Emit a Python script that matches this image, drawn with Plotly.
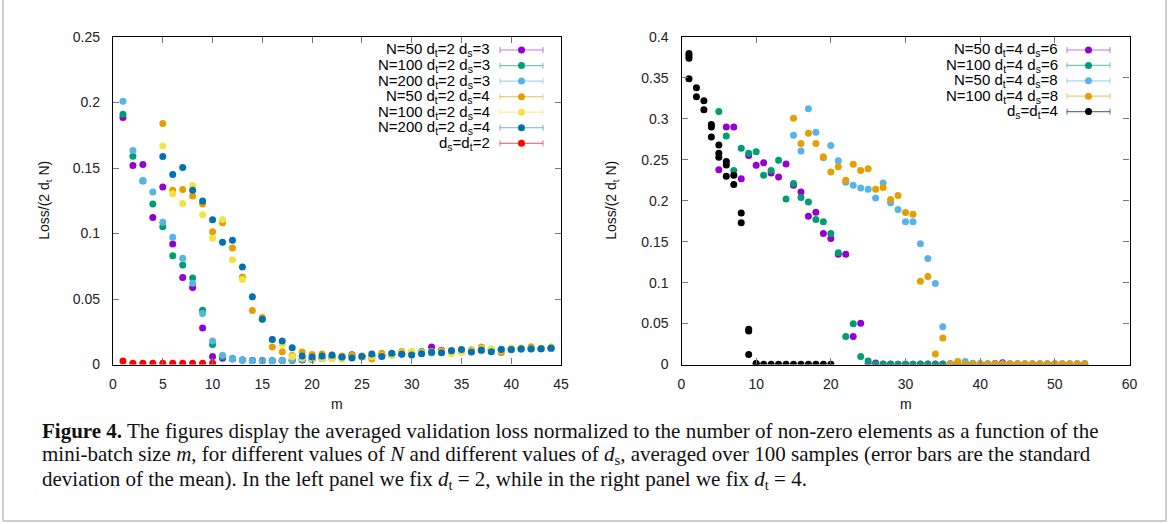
import plotly.graph_objects as go

# ---------------- data: left panel (d_t = 2) ----------------
m_ds3 = list(range(1, 45))
m_ds4 = list(range(5, 45))
m_red = list(range(1, 11))

n50_ds3 = [0.1885, 0.152, 0.1527, 0.1123, 0.1355, 0.092, 0.0665, 0.0587, 0.0279, 0.0062,
           0.0047, 0.0042, 0.0035, 0.003, 0.003, 0.0028, 0.003, 0.0032, 0.0035, 0.004,
           0.0045, 0.005, 0.0055, 0.0075, 0.006, 0.0065, 0.007, 0.0075, 0.008, 0.0085,
           0.009, 0.0134, 0.0108, 0.0105, 0.0105, 0.0108, 0.011, 0.0112, 0.0115, 0.0117,
           0.012, 0.012, 0.0122, 0.0124]
n100_ds3 = [0.191, 0.159, 0.14, 0.1226, 0.1052, 0.083, 0.0759, 0.066, 0.0415, 0.0153,
            0.006, 0.0045, 0.0035, 0.003, 0.0028, 0.0028, 0.003, 0.0033, 0.0038, 0.0042,
            0.0046, 0.005, 0.0055, 0.006, 0.0063, 0.0066, 0.007, 0.0075, 0.008, 0.0085,
            0.01, 0.009, 0.0095, 0.0098, 0.01, 0.0105, 0.0108, 0.011, 0.0113, 0.0116,
            0.0118, 0.012, 0.0121, 0.0123]
n200_ds3 = [0.201, 0.1633, 0.1405, 0.1317, 0.1085, 0.0971, 0.0812, 0.062, 0.039, 0.018,
            0.007, 0.0044, 0.0034, 0.0029, 0.0028, 0.0028, 0.003, 0.0034, 0.004, 0.0042,
            0.0045, 0.005, 0.0054, 0.0058, 0.0062, 0.0066, 0.007, 0.0074, 0.0078, 0.0082,
            0.0086, 0.009, 0.0093, 0.0096, 0.0099, 0.0102, 0.0105, 0.0108, 0.011, 0.0113,
            0.0116, 0.0118, 0.012, 0.0122]
n50_ds4 = [0.184, 0.133, 0.1335, 0.1286, 0.1226, 0.1014, 0.1082, 0.089, 0.0668, 0.0413,
           0.0358, 0.0133, 0.0097, 0.0068, 0.0095, 0.0077, 0.008, 0.0075, 0.0065, 0.007,
           0.0065, 0.0042, 0.0085, 0.008, 0.01, 0.0095, 0.0095, 0.01, 0.0105, 0.0105,
           0.011, 0.011, 0.0134, 0.0115, 0.009, 0.012, 0.0122, 0.0136, 0.0125, 0.013]
n100_ds4 = [0.1668, 0.1304, 0.1229, 0.1367, 0.1143, 0.0963, 0.1107, 0.0799, 0.0648, 0.0517,
            0.0345, 0.019, 0.0153, 0.0059, 0.005, 0.0045, 0.0045, 0.0045, 0.004, 0.005,
            0.0055, 0.006, 0.0065, 0.0075, 0.009, 0.01, 0.009, 0.0095, 0.0095, 0.0083,
            0.0093, 0.0105, 0.012, 0.012, 0.011, 0.0127, 0.0127, 0.0125, 0.012, 0.0136]
n200_ds4 = [0.1587, 0.145, 0.1504, 0.133, 0.1249, 0.1105, 0.0933, 0.0948, 0.0744, 0.0517,
            0.0345, 0.0191, 0.018, 0.0127, 0.0064, 0.0057, 0.0064, 0.007, 0.0057, 0.005,
            0.0062, 0.008, 0.0062, 0.0085, 0.008, 0.0072, 0.0083, 0.0093, 0.009, 0.0105,
            0.0115, 0.0095, 0.0111, 0.0098, 0.0115, 0.0115, 0.0121, 0.012, 0.012, 0.0126]
ds_dt_2 = [0.0027, 0.001, 0.001, 0.001, 0.001, 0.001, 0.001, 0.001, 0.001, 0.001]

# ---------------- data: right panel (d_t = 4) ----------------
m_ds6 = list(range(5, 55))
m_ds8 = list(range(15, 55))

n50_ds6 = [0.238, 0.29, 0.29, 0.227, 0.2554, 0.2435, 0.2463, 0.234, 0.229, 0.245,
           0.219, 0.2108, 0.181, 0.186, 0.160, 0.154, 0.1346, 0.1348, 0.0343, 0.0503,
           0.001, 0.0017, 0.0005, 0.0005, 0.0004, 0.0004, 0.0004, 0.0005, 0.0005, 0.0005,
           0.0005, 0.0006, 0.0006, 0.0006, 0.0006, 0.0006, 0.0006, 0.0012, 0.002, 0.0006,
           0.0006, 0.0006, 0.0006, 0.0006, 0.0006, 0.0007, 0.0007, 0.0007, 0.0007, 0.001]
n100_ds6 = [0.309, 0.279, 0.237, 0.264, 0.258, 0.260, 0.231, 0.237, 0.2496, 0.202,
            0.221, 0.204, 0.1986, 0.177, 0.1745, 0.160, 0.1365, 0.0343, 0.0499, 0.0098,
            0.0042, 0.0005, 0.0003, 0.0003, 0.0003, 0.0003, 0.0003, 0.0003, 0.0003, 0.0003,
            0.0003, 0.0003, 0.0003, 0.0003, 0.0003, 0.0003, 0.0003, 0.0003, 0.0003, 0.0003,
            0.0003, 0.0003, 0.0004, 0.0004, 0.0004, 0.0004, 0.0004, 0.0004, 0.0004, 0.0004]
n50_ds8 = [0.28, 0.2607, 0.3125, 0.2836, 0.2525, 0.2676, 0.2488, 0.2227, 0.219, 0.2157,
           0.214, 0.2034, 0.2216, 0.1975, 0.1892, 0.1745, 0.1745, 0.1475, 0.1295, 0.0989,
           0.0462, 0.0012, 0.0025, 0.0037, 0.0015, 0.001, 0.0008, 0.0008, 0.0008, 0.0008,
           0.0008, 0.0008, 0.0008, 0.0008, 0.0008, 0.0009, 0.0009, 0.0009, 0.001, 0.001]
n100_ds8 = [0.3007, 0.270, 0.2824, 0.270, 0.2537, 0.235, 0.2414, 0.2251, 0.2447, 0.2368,
            0.2392, 0.214, 0.2162, 0.2015, 0.2064, 0.1855, 0.1835, 0.1018, 0.1075, 0.0127,
            0.0323, 0.0005, 0.0037, 0.0005, 0.0005, 0.0005, 0.0005, 0.0005, 0.0005, 0.0005,
            0.0005, 0.0005, 0.0005, 0.0005, 0.0005, 0.0005, 0.0005, 0.0005, 0.0005, 0.0005]
black_m = [1, 1, 1, 1, 2, 2, 3, 3, 4, 4, 4, 5, 5, 5, 6, 6, 6, 7, 7, 8, 8, 9, 9, 9,
           10, 10, 11, 12, 13, 14, 15, 16, 17, 18, 19, 20]
black_v = [0.380, 0.377, 0.374, 0.349, 0.338, 0.327, 0.322, 0.311, 0.293, 0.290, 0.278,
           0.268, 0.258, 0.253, 0.248, 0.2436, 0.230, 0.231, 0.220, 0.185, 0.173,
           0.043, 0.041, 0.0123, 0.0012, 0.0005, 0.0003, 0.0003, 0.0003, 0.0003, 0.0003,
           0.0003, 0.0003, 0.0003, 0.0003, 0.0003]

left_names = ["N=50 d<sub>t</sub>=2 d<sub>s</sub>=3", "N=100 d<sub>t</sub>=2 d<sub>s</sub>=3",
              "N=200 d<sub>t</sub>=2 d<sub>s</sub>=3", "N=50 d<sub>t</sub>=2 d<sub>s</sub>=4",
              "N=100 d<sub>t</sub>=2 d<sub>s</sub>=4", "N=200 d<sub>t</sub>=2 d<sub>s</sub>=4",
              "d<sub>s</sub>=d<sub>t</sub>=2"]
right_names = ["N=50 d<sub>t</sub>=4 d<sub>s</sub>=6", "N=100 d<sub>t</sub>=4 d<sub>s</sub>=6",
               "N=50 d<sub>t</sub>=4 d<sub>s</sub>=8", "N=100 d<sub>t</sub>=4 d<sub>s</sub>=8",
               "d<sub>s</sub>=d<sub>t</sub>=4"]

x_ticks_left = [0, 5, 10, 15, 20, 25, 30, 35, 40, 45]
x_ticks_right = [0, 10, 20, 30, 40, 50, 60]

# ---------------- styling ----------------
COL = {"purple": (148, 0, 211), "green": (0, 158, 115), "lblue": (86, 180, 233),
       "orange": (230, 159, 0), "yellow": (240, 228, 66), "blue": (0, 114, 178),
       "red": (255, 0, 0), "black": (0, 0, 0)}

W, H = 1170, 524
def px(x):
    return x / W
def py(y):
    return 1 - y / H

L1, L2 = 113, 561
R1, R2 = 681.5, 1129.5
TOP, BOT = 37, 364.5

def rgb(c, a=1.0):
    return f"rgba({c[0]},{c[1]},{c[2]},{a})"

fig = go.Figure()

def add(xs, ys, name, col, axis, err):
    fig.add_trace(go.Scatter(
        x=xs, y=ys, name=name, mode="markers", showlegend=False,
        xaxis="x" if axis == 1 else "x2", yaxis="y" if axis == 1 else "y2",
        marker=dict(color=rgb(COL[col]), size=7, line=dict(width=0)),
        error_y=dict(type="constant", value=err, color=rgb(COL[col], 0.5),
                     thickness=1, width=2)))

left_series = [(m_ds3, n50_ds3, "purple"), (m_ds3, n100_ds3, "green"),
               (m_ds3, n200_ds3, "lblue"), (m_ds4, n50_ds4, "orange"),
               (m_ds4, n100_ds4, "yellow"), (m_ds4, n200_ds4, "blue"),
               (m_red, ds_dt_2, "red")]
right_series = [(m_ds6, n50_ds6, "purple"), (m_ds6, n100_ds6, "green"),
                (m_ds8, n50_ds8, "lblue"), (m_ds8, n100_ds8, "orange"),
                (black_m, black_v, "black")]

for (xs, ys, c), nm in zip(left_series, left_names):
    add(xs, ys, nm, c, 1, 0.0015)
for (xs, ys, c), nm in zip(right_series, right_names):
    add(xs, ys, nm, c, 2, 0.0022)

tickfont = dict(family="Liberation Sans", size=14, color="#222")
axis_common = dict(showline=True, linecolor="#000", linewidth=1.3, mirror="allticks",
                   ticks="inside", ticklen=6, tickcolor="#777", tickwidth=1,
                   showgrid=False, zeroline=False, tickfont=tickfont, fixedrange=True)

fig.update_layout(
    width=W, height=H, paper_bgcolor="white", plot_bgcolor="white",
    margin=dict(l=0, r=0, t=0, b=0, autoexpand=False), showlegend=False,
    xaxis=dict(domain=[px(L1), px(L2)], range=[0, 45], tickvals=x_ticks_left,
               anchor="y", ticklabelstandoff=7, **axis_common),
    yaxis=dict(domain=[py(BOT), py(TOP)], range=[0, 0.25], dtick=0.05,
               anchor="x", ticklabelstandoff=9, **axis_common),
    xaxis2=dict(domain=[px(R1), px(R2)], range=[0, 60], tickvals=x_ticks_right,
                anchor="y2", ticklabelstandoff=7, **axis_common),
    yaxis2=dict(domain=[py(BOT), py(TOP)], range=[0, 0.4], dtick=0.05,
                anchor="x2", ticklabelstandoff=9, **axis_common),
)

ann = []
shapes = []
lab_font = dict(family="Liberation Sans", size=14, color="#111")
# axis titles
for xc in [(L1 + L2) / 2, (R1 + R2) / 2]:
    ann.append(dict(text="m", x=px(xc), y=py(404), xref="paper", yref="paper",
                    showarrow=False, font=lab_font, xanchor="center", yanchor="middle"))
for xc in [45, 612]:
    ann.append(dict(text="Loss/(2 d<sub>t</sub> N)", x=px(xc), y=py((TOP + BOT) / 2),
                    xref="paper", yref="paper", showarrow=False, font=lab_font,
                    textangle=-90, xanchor="center", yanchor="middle"))

# gnuplot-style keys (text, then errorbar sample)
def key(names, series, text_right, l0, l1, y0, dy):
    for i, (nm, s) in enumerate(zip(names, series)):
        c = COL[s[2]]
        y = y0 + i * dy
        ann.append(dict(text=nm, x=px(text_right), y=py(y), xref="paper", yref="paper",
                        showarrow=False, xanchor="right", yanchor="middle",
                        font=dict(family="Liberation Sans", size=15, color="#000")))
        shapes.append(dict(type="line", xref="paper", yref="paper", x0=px(l0), x1=px(l1),
                           y0=py(y), y1=py(y), line=dict(color=rgb(c, 0.55), width=1.2)))
        for xe in (l0, l1):
            shapes.append(dict(type="line", xref="paper", yref="paper", x0=px(xe), x1=px(xe),
                               y0=py(y - 3), y1=py(y + 3), line=dict(color=rgb(c, 0.55), width=1)))
        xm = (l0 + l1) / 2
        shapes.append(dict(type="circle", xref="paper", yref="paper", fillcolor=rgb(c),
                           line=dict(width=0), x0=px(xm - 3.5), x1=px(xm + 3.5),
                           y0=py(y + 3.5), y1=py(y - 3.5)))

key(left_names, left_series, 492, 500, 543, 50, 15.55)
key(right_names, right_series, 1060, 1067, 1110, 50, 15.4)

# caption
cap_font = dict(family="Liberation Serif", size=21, color="#111")
cap_lines = [
    "<b>Figure 4.</b> The figures display the averaged validation loss normalized to the number of non-zero elements as a function of the",
    "mini-batch size <i>m</i>, for different values of <i>N</i> and different values of <i>d</i><sub>s</sub>, averaged over 100 samples (error bars are the standard",
    "deviation of the mean). In the left panel we fix <i>d</i><sub>t</sub> = 2, while in the right panel we fix <i>d</i><sub>t</sub> = 4.",
]
cap_y = [431, 454.5, 480]
for t, yy in zip(cap_lines, cap_y):
    ann.append(dict(text=t, x=px(40), y=py(yy), xref="paper", yref="paper",
                    showarrow=False, xanchor="left", yanchor="middle", font=cap_font))

# outer frame (left, right, bottom)
fc = "#cfcfcf"
shapes.append(dict(type="line", xref="paper", yref="paper", x0=px(3), x1=px(3), y0=py(0), y1=py(521),
                   line=dict(color=fc, width=2)))
shapes.append(dict(type="line", xref="paper", yref="paper", x0=px(1166), x1=px(1166), y0=py(0), y1=py(521),
                   line=dict(color=fc, width=2)))
shapes.append(dict(type="line", xref="paper", yref="paper", x0=px(3), x1=px(1166), y0=py(521), y1=py(521),
                   line=dict(color=fc, width=2)))

fig.update_layout(annotations=ann, shapes=shapes)
fig.write_html("out.html", config={"displayModeBar": False},
               post_script="document.body.style.margin='0';document.body.style.overflow='hidden';")
